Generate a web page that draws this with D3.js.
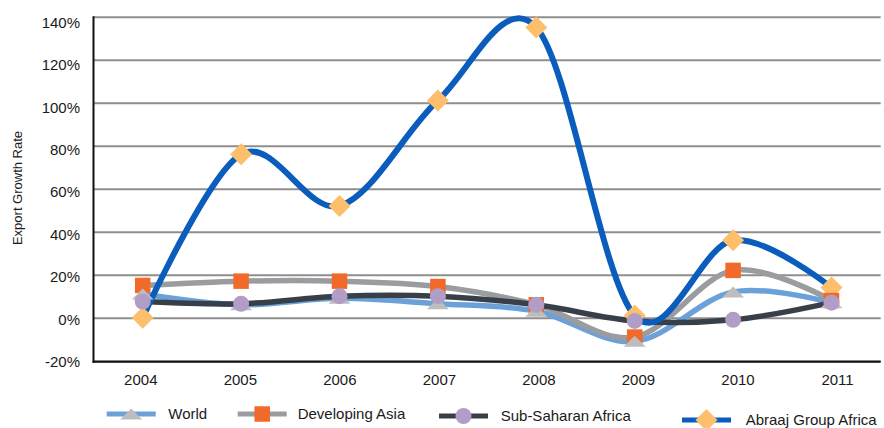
<!DOCTYPE html>
<html>
<head>
<meta charset="utf-8">
<script src="https://cdn.jsdelivr.net/npm/d3@7"></script>
<style>
  html, body { margin: 0; padding: 0; background: #ffffff; }
  svg { display: block; font-family: "Liberation Sans", Arial, Helvetica, sans-serif; }
</style>
</head>
<body>
<svg id="chart" width="884" height="428"></svg>
<script>
// Export growth by year, in percent
const years = ["2004", "2005", "2006", "2007", "2008", "2009", "2010", "2011"];
const world = [11, 6, 9, 6.5, 3, -11, 12, 7];
const developingAsia = [15, 17, 17, 14.5, 6, -9, 22, 8];
const subSaharanAfrica = [7.5, 6.5, 10, 10, 6, -1.5, -1, 7];
const abraajGroupAfrica = [0, 76, 52, 101, 135, 1, 36, 14];
const yTicks = [-20, 0, 20, 40, 60, 80, 100, 120, 140];
const seriesNames = ["World", "Developing Asia", "Sub-Saharan Africa", "Abraaj Group Africa"];

const series = [
  { name: seriesNames[0], values: world, line: "#6ba1d8", fill: "#bdbdbd", marker: "triangle", width: 5.5, legendY: 414 },
  { name: seriesNames[1], values: developingAsia, line: "#9a9c9f", fill: "#f26a2a", marker: "square", width: 5.5, legendY: 414 },
  { name: seriesNames[2], values: subSaharanAfrica, line: "#373f48", fill: "#b29dc6", marker: "circle", width: 5.5, legendY: 416 },
  { name: seriesNames[3], values: abraajGroupAfrica, line: "#0a5cbd", fill: "#fdbf6b", marker: "diamond", width: 6, legendY: 420 }
];

const svg = d3.select("#chart");
const plotLeft = 93.5, plotRight = 880.7, plotTop = 16.7, plotBottom = 360.7;

const x = d3.scaleBand().domain(years).range([plotLeft, plotRight]);
const xc = d => x(d) + x.bandwidth() / 2;
const y = d3.scaleLinear().domain([-20, 140]).range([plotBottom, plotTop]);
// label positions run on their own slightly different pitch
const xLabel = d3.scalePoint().domain(years).range([140.3, 837]);
const yLabel = d3.scaleLinear().domain([-20, 140]).range([362, 22.3]);

// horizontal gridlines
const grid = svg.append("g").attr("transform", `translate(${plotLeft},0)`)
  .call(d3.axisLeft(y).tickValues(yTicks).tickSize(-(plotRight - plotLeft)).tickFormat(""));
grid.select(".domain").remove();
grid.selectAll(".tick line").attr("stroke", "#8e8e8e").attr("stroke-width", 2);

// y tick labels
const yAx = svg.append("g").attr("transform", `translate(${plotLeft},0)`)
  .call(d3.axisLeft(yLabel).tickValues(yTicks).tickSize(0).tickPadding(13.5).tickFormat(d => d + "%"));
yAx.select(".domain").remove();
yAx.selectAll("text").attr("font-size", 15).attr("fill", "#1a1a1a")
  .attr("font-family", "'Liberation Sans', Arial, sans-serif");

// x tick labels
const xAx = svg.append("g").attr("transform", `translate(0,${plotBottom})`)
  .call(d3.axisBottom(xLabel).tickSize(0).tickPadding(14));
xAx.select(".domain").remove();
xAx.selectAll("text").attr("font-size", 15).attr("fill", "#1a1a1a")
  .attr("font-family", "'Liberation Sans', Arial, sans-serif");

// axis frame lines
svg.append("line").attr("x1", plotLeft).attr("x2", plotLeft).attr("y1", plotTop - 0.5).attr("y2", plotBottom + 2)
  .attr("stroke", "#111").attr("stroke-width", 2);
svg.append("line").attr("x1", plotLeft - 1).attr("x2", plotRight).attr("y1", plotBottom + 1).attr("y2", plotBottom + 1)
  .attr("stroke", "#111").attr("stroke-width", 2);

// y axis title
svg.append("text")
  .attr("transform", "translate(22,188) rotate(-90)")
  .attr("text-anchor", "middle")
  .attr("font-size", 13)
  .attr("fill", "#1a1a1a")
  .text("Export Growth Rate");

// marker shapes
function markerPath(type) {
  if (type === "square") return d3.symbol(d3.symbolSquare, 15.5 * 15.5)();
  if (type === "circle") return d3.symbol(d3.symbolCircle, Math.PI * 8 * 8)();
  if (type === "diamond") return "M0,-11L11,0L0,11L-11,0Z";
  return "M-11,5.5L0,-5.5L11,5.5Z";
}

const lineGen = d3.line()
  .x((d, i) => xc(years[i]))
  .y(d => y(d))
  .curve(d3.curveCardinal.tension(0));

// series lines
svg.append("g").selectAll("path").data(series).join("path")
  .attr("d", s => lineGen(s.values))
  .attr("fill", "none")
  .attr("stroke", s => s.line)
  .attr("stroke-width", s => s.width)
  .attr("stroke-linejoin", "round")
  .attr("stroke-linecap", "round");

// markers drawn above all lines
const markerOrder = [series[3], series[1], series[0], series[2]];
markerOrder.forEach(s => {
  svg.append("g").selectAll("path").data(s.values).join("path")
    .attr("d", markerPath(s.marker))
    .attr("transform", (d, i) => `translate(${xc(years[i])},${y(d)})`)
    .attr("fill", s.fill);
});

// legend
const legendX = [106.7, 237.7, 439, 682];
const legend = svg.append("g").selectAll("g").data(series).join("g")
  .attr("transform", (s, i) => `translate(${legendX[i]},${s.legendY})`);
legend.append("line").attr("x1", 0).attr("x2", 49).attr("y1", 0).attr("y2", 0)
  .attr("stroke", s => s.line).attr("stroke-width", 5);
legend.append("path").attr("d", s => markerPath(s.marker))
  .attr("transform", "translate(24.5,0)").attr("fill", s => s.fill);
legend.append("text").attr("x", (s, i) => [61.6, 60, 61.7, 63.7][i]).attr("y", 5.3)
  .attr("font-size", 15).attr("fill", "#1a1a1a")
  .text(s => s.name);
</script>
</body>
</html>
